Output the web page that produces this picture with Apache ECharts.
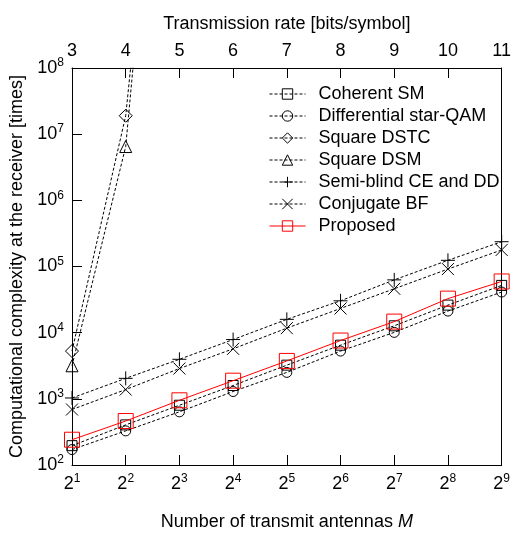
<!DOCTYPE html>
<html>
<head>
<meta charset="utf-8">
<script src="https://cdn.jsdelivr.net/npm/echarts@6/dist/echarts.min.js"></script>
<style>
  html, body { margin: 0; padding: 0; background: #fff; }
  #chart { width: 514px; height: 536px; }
</style>
</head>
<body>
<div id="chart"></div>
<script>
// Number of transmit antennas M = 2^k, k = 1..9
const antennaExponents = [1, 2, 3, 4, 5, 6, 7, 8, 9];
// Transmission rate [bits/symbol] shown on the top axis
const rateTicks = [3, 4, 5, 6, 7, 8, 9, 10, 11];

// Complexity at the receiver [times] for each scheme
const coherentSM      = [196, 404, 800, 1590, 3230, 6470, 12700, 26100, 51800];
const diffStarQAM     = [171, 328, 636, 1290, 2510, 5270, 10100, 21200, 41100];
const squareDSTC      = [5270, 1.9e7, 1.6e15];
const squareDSM       = [3160, 6.5e6, 4e15];
const semiBlind       = [1030, 2040, 3960, 7870, 15900, 30300, 62800, 124000, 237000];
const conjugateBF     = [690, 1380, 2870, 5700, 11700, 23200, 46100, 91400, 178000];
const proposed        = [241, 462, 950, 1880, 3740, 7600, 14700, 32700, 59400];

const FONT = 'Liberation Sans, Arial, Helvetica, sans-serif';
const FS = 18;

function pairs(values) {
  return values.map((v, i) => [antennaExponents[i], v]);
}

const plusPath = 'path://M5,0L5,10M0,5L10,5';
const crossPath = 'path://M0,0L10,10M10,0L0,10';

function dashedSeries(name, values, symbol, size) {
  return {
    name: name,
    type: 'line',
    data: pairs(values),
    symbol: symbol,
    symbolSize: size,
    showAllSymbol: true,
    clip: true,
    lineStyle: { color: '#000', width: 1, type: [3, 2] },
    itemStyle: { color: 'none', borderColor: '#000', borderWidth: 1 },
    emphasis: { disabled: true },
    z: 2
  };
}

const chart = echarts.init(document.getElementById('chart'), null, { renderer: 'canvas' });

const superRich = {
  b: { fontSize: FS, fontFamily: FONT, color: '#000' },
  s: { fontSize: 12, fontFamily: FONT, color: '#000', padding: [0, 0, 10, 0] }
};

chart.setOption({
  animation: false,
  backgroundColor: '#fff',
  textStyle: { fontFamily: FONT },
  grid: { left: 69, right: 8, top: 68, bottom: 65, containLabel: false },
  legend: {
    orient: 'vertical',
    left: 264,
    top: 80,
    itemWidth: 36,
    itemHeight: 13,
    itemGap: 4,
    selectedMode: false,
    itemStyle: { borderWidth: 1 },
    lineStyle: { width: 1 },
    textStyle: { fontSize: FS, fontFamily: FONT, color: '#000', lineHeight: 18, padding: [0, 0, 0, 8] },
    data: ['Coherent SM', 'Differential star-QAM', 'Square DSTC', 'Square DSM',
           'Semi-blind CE and DD', 'Conjugate BF', 'Proposed']
  },
  xAxis: [
    {
      type: 'value',
      position: 'bottom',
      min: 1, max: 9, interval: 1,
      name: 'Number of transmit antennas {i|M}',
      nameLocation: 'middle',
      nameGap: 48,
      nameTextStyle: {
        fontSize: FS, fontFamily: FONT, color: '#000',
        rich: { i: { fontSize: FS, fontStyle: 'italic', fontFamily: FONT, color: '#000' } }
      },
      axisLine: { show: true, lineStyle: { color: '#000', width: 1 } },
      axisTick: { show: true, inside: true, length: 10, lineStyle: { color: '#000' } },
      splitLine: { show: false },
      axisLabel: {
        margin: 8,
        formatter: v => '{b|2}{s|' + v + '}',
        rich: superRich
      }
    },
    {
      type: 'value',
      position: 'top',
      min: rateTicks[0], max: rateTicks[rateTicks.length - 1], interval: 1,
      name: 'Transmission rate [bits/symbol]',
      nameLocation: 'middle',
      nameGap: 35,
      nameTextStyle: { fontSize: FS, fontFamily: FONT, color: '#000' },
      axisLine: { show: true, lineStyle: { color: '#000', width: 1 } },
      axisTick: { show: true, inside: true, length: 10, lineStyle: { color: '#000' } },
      splitLine: { show: false },
      axisLabel: { margin: 8, fontSize: FS, fontFamily: FONT, color: '#000' }
    }
  ],
  yAxis: [
    {
      type: 'log',
      logBase: 10,
      min: 1e2, max: 1e8,
      position: 'left',
      name: 'Computational complexity at the receiver [times]',
      nameLocation: 'middle',
      nameGap: 46,
      nameTextStyle: { fontSize: FS, fontFamily: FONT, color: '#000' },
      axisLine: { show: true, lineStyle: { color: '#000', width: 1 } },
      axisTick: { show: true, inside: true, length: 10, lineStyle: { color: '#000' } },
      minorTick: { show: false },
      splitLine: { show: false },
      axisLabel: {
        margin: 8,
        formatter: v => '{b|10}{s|' + Math.round(Math.log10(v)) + '}',
        rich: superRich
      }
    },
    {
      type: 'log',
      logBase: 10,
      min: 1e2, max: 1e8,
      position: 'right',
      axisLine: { show: true, lineStyle: { color: '#000', width: 1 } },
      axisTick: { show: false },
      axisLabel: { show: false },
      splitLine: { show: false }
    }
  ],
  series: [
    dashedSeries('Coherent SM', coherentSM, 'rect', 10),
    dashedSeries('Differential star-QAM', diffStarQAM, 'circle', 10),
    dashedSeries('Square DSTC', squareDSTC, 'diamond', 13),
    dashedSeries('Square DSM', squareDSM, 'triangle', 12),
    dashedSeries('Semi-blind CE and DD', semiBlind, plusPath, 14),
    dashedSeries('Conjugate BF', conjugateBF, crossPath, 12),
    {
      name: 'Proposed',
      type: 'line',
      data: pairs(proposed),
      symbol: 'rect',
      symbolSize: 15,
      clip: true,
      lineStyle: { color: '#ff0000', width: 1, type: 'solid' },
      itemStyle: { color: 'none', borderColor: '#ff0000', borderWidth: 1 },
      emphasis: { disabled: true },
      z: 3
    }
  ]
});
</script>
</body>
</html>
